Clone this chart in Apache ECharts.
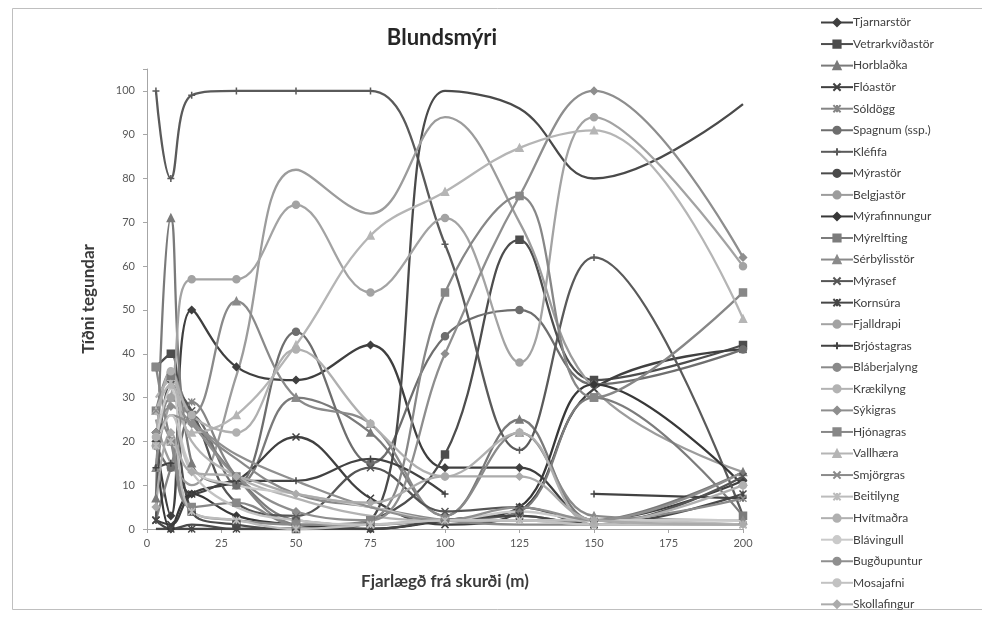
<!DOCTYPE html>
<html><head><meta charset="utf-8">
<script src="https://cdn.jsdelivr.net/npm/echarts@6/dist/echarts.min.js"></script>
<style>html,body{margin:0;padding:0;background:#fff}#c{width:982px;height:618px}</style>
</head><body><div id="c"></div>
<script>
const distances = [3, 8, 15, 30, 50, 75, 100, 125, 150, 200];
const xTicks = [0, 25, 50, 75, 100, 125, 150, 175, 200];
const yTicks = [0, 10, 20, 30, 40, 50, 60, 70, 80, 90, 100];
const speciesNames = ['Tjarnarstör','Vetrarkvíðastör','Horblaðka','Flóastör','Sóldögg','Spagnum (ssp.)','Kléfifa','Mýrastör','Belgjastör','Mýrafinnungur','Mýrelfting','Sérbýlisstör','Mýrasef','Kornsúra','Fjalldrapi','Brjóstagras','Bláberjalyng','Krækilyng','Sýkigras','Hjónagras','Vallhæra','Smjörgras','Beitilyng','Hvítmaðra','Blávingull','Bugðupuntur','Mosajafni','Skollafingur'];
const tjarnarstor    = [20, 3, 50, 37, 34, 42, 14, 14, 2, 11];
const vetrarkvidastor= [37, 40, 4, 1, 0, 2, 17, 66, 34, 42];
const horbladka      = [7, 71, 15, 10, 30, 22, 3, 25, 2, 13];
const floastor       = [2, 1, 8, 11, 21, 7, 1, 4, 32, 41];
const soldogg        = [2, 14, 29, 12, 1, 0, 2, 3, 1, 1];
const spagnum        = [19, 14, 26, 10, 45, 15, 44, 50, 33, 41];
const klefifa        = [100, 80, 99, 100, 100, 100, 65, 18, 62, 3];
const myrastor       = [0, 0, 1, 0, 0, 2, 100, 96, 80, 97];
const belgjastor     = [25, 15, 10, 35, 82, 72, 94, 70, 32, 13];
const myrafinnungur  = [22, 0, 8, 3, 1, 0, 2, 5, 33, 10];
const myrelfting     = [27, 35, 26, 12, 2, 1, 2, 4, 30, 3];
const serbylisstor   = [14, 30, 26, 52, 30, 24, 3, 22, 3, 2];
const myrasef        = [2, 33, 27, 6, 3, 14, 4, 5, 1, 12];
const kornsura       = [2, 0, 0, 0, 0, 0, 2, 3, 1, 8];
const fjalldrapi     = [19, 30, 57, 57, 74, 54, 71, 38, 94, 60];
const brjostagras    = [14, 15, 8, 11, 11, 16, 8, null, 8, 7];
const blaberjalyng   = [26, 36, 25, 16, 8, 5, 2, 1, 1, 1];
const kraekilyng     = [30, 34, 20, 12, 7, 3, 2, 2, 1, 1];
const sykigras       = [22, 28, 24, 12, 4, 2, 40, 76, 100, 62];
const hjonagras      = [37, 20, 5, 6, 1, 2, 54, 76, 30, 54];
const vallhaera      = [27, 33, 22, 26, 42, 67, 77, 87, 91, 48];
const smjorgras      = [27, 20, 4, 2, 1, 1, 2, 2, 2, 7];
const beitilyng      = [19, 20, 4, 2, 0, 1, 2, 2, 2, 1];
const hvitmadra      = [21, 36, 26, 22, 41, 24, 12, 22, 1, 10];
const blavingull     = [20, 32, 14, 10, 8, 5, 2, 4, 2, 2];
const bugdupuntur    = [14, 26, 24, 17, 11, 5, 2, 5, 2, 13];
const mosajafni      = [19, 26, 13, 5, 2, 1, 2, 2, 1, 1];
const skollafingur   = [5, 22, 13, 12, 8, 6, 12, 12, 2, 1];
const allValues = [tjarnarstor, vetrarkvidastor, horbladka, floastor, soldogg, spagnum, klefifa, myrastor, belgjastor, myrafinnungur, myrelfting, serbylisstor, myrasef, kornsura, fjalldrapi, brjostagras, blaberjalyng, kraekilyng, sykigras, hjonagras, vallhaera, smjorgras, beitilyng, hvitmadra, blavingull, bugdupuntur, mosajafni, skollafingur];

const X_SYM = 'path://M0,0L10,10M10,0L0,10';
const STAR_SYM = 'path://M0,0L10,10M10,0L0,10M5,0L5,10';
const PLUS_SYM = 'path://M5,0L5,10M0,5L10,5';
const styles = [
  ['diamond','#3f3f3f'],['rect','#4d4d4d'],['triangle','#7a7a7a'],[X_SYM,'#404040'],[STAR_SYM,'#858585'],
  ['circle','#6e6e6e'],[PLUS_SYM,'#5a5a5a'],['none','#4a4a4a'],['none','#9c9c9c'],['diamond','#383838'],
  ['rect','#7c7c7c'],['triangle','#8a8a8a'],[X_SYM,'#555555'],[STAR_SYM,'#474747'],['circle','#a3a3a3'],
  [PLUS_SYM,'#424242'],['none','#8a8a8a'],['none','#b3b3b3'],['diamond','#8e8e8e'],['rect','#878787'],
  ['triangle','#b5b5b5'],[X_SYM,'#8a8a8a'],[STAR_SYM,'#bcbcbc'],['circle','#b0b0b0'],['none','#cacaca'],
  ['none','#8f8f8f'],['none','#c2c2c2'],['diamond','#ababab']
];
const FONT = 'Lato, "Open Sans", sans-serif';
const series = speciesNames.map((n, i) => ({
  name: n, type: 'line', smooth: 0.4, connectNulls: false,
  data: distances.map((x, j) => [x, allValues[i][j]]),
  symbol: styles[i][0], symbolSize: 7,
  showSymbol: styles[i][0] !== 'none',
  lineStyle: { color: styles[i][1], width: 2.3 },
  itemStyle: { color: styles[i][1], borderColor: styles[i][1], borderWidth: 1.5 },
  emphasis: { disabled: true }, animation: false
}));

const chart = echarts.init(document.getElementById('c'), null, { renderer: 'canvas' });
chart.setOption({
  backgroundColor: '#fff',
  animation: false,
  graphic: [{ type: 'rect', shape: { x: 12.5, y: 8.5, width: 990, height: 601 }, style: { fill: 'none', stroke: '#bfbfbf', lineWidth: 1 }, z: -1 }],
  title: { text: 'Blundsmýri', left: 437, top: 22, textAlign: 'center',
    textStyle: { fontFamily: FONT, fontWeight: 'bold', fontSize: 22, color: '#262626' } },
  grid: { left: 147, right: 239, top: 69, bottom: 89, containLabel: false },
  legend: {
    orient: 'vertical', left: 815, top: 11, itemWidth: 32, itemHeight: 9, itemGap: 8.55,
    textStyle: { fontFamily: FONT, fontSize: 12, color: '#404040', lineHeight: 13, padding: [0,0,0,-5] },
    data: speciesNames
  },
  xAxis: {
    type: 'value', min: 0, max: 200, interval: 25,
    name: 'Fjarlægð frá skurði (m)', nameLocation: 'middle', nameGap: 44,
    nameTextStyle: { fontFamily: FONT, fontWeight: 'bold', fontSize: 17, color: '#3a3a3a' },
    axisLine: { show: true, lineStyle: { color: '#a6a6a6', width: 1 } },
    axisTick: { show: true, inside: false, length: 4, lineStyle: { color: '#a6a6a6' } },
    axisLabel: { fontFamily: FONT, fontSize: 11, color: '#595959', margin: 9 },
    splitLine: { show: false }
  },
  yAxis: {
    type: 'value', min: 0, max: 105, interval: 10,
    name: 'Tíðni tegundar', nameLocation: 'middle', nameGap: 50, nameRotate: 90,
    nameTextStyle: { fontFamily: FONT, fontWeight: 'bold', fontSize: 17, color: '#3a3a3a' },
    axisLine: { show: true, lineStyle: { color: '#a6a6a6', width: 1 } },
    axisTick: { show: true, length: 4, lineStyle: { color: '#a6a6a6' } },
    axisLabel: { fontFamily: FONT, fontSize: 11, color: '#595959', margin: 12,
      formatter: v => (yTicks.indexOf(v) >= 0 ? String(v) : '') },
    splitLine: { show: false }
  },
  series: series
});
</script></body></html>
